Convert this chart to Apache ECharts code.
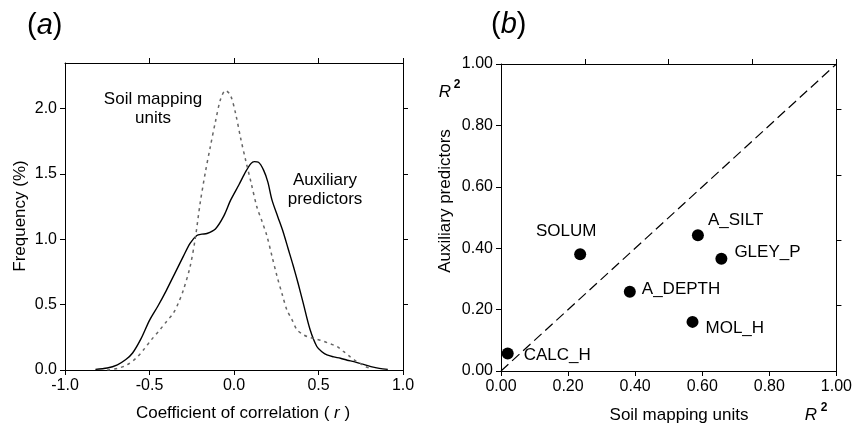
<!DOCTYPE html>
<html>
<head>
<meta charset="utf-8">
<script src="https://cdn.jsdelivr.net/npm/echarts@6/dist/echarts.min.js"></script>
<style>
  html, body { margin: 0; padding: 0; background: #fff; }
  #chart { width: 855px; height: 425px; }
</style>
</head>
<body>
<div id="chart"></div>
<script>
// (a) frequency curves of correlation coefficient r
var auxR = [-0.82, -0.75, -0.69, -0.64, -0.60, -0.55, -0.50, -0.45, -0.40, -0.35, -0.30, -0.26, -0.22, -0.19, -0.16, -0.11, -0.06, -0.02, 0.03, 0.07, 0.10, 0.12, 0.145, 0.175, 0.20, 0.225, 0.26, 0.29, 0.32, 0.35, 0.38, 0.41, 0.45, 0.49, 0.52, 0.55, 0.59, 0.63, 0.67, 0.71, 0.76, 0.81, 0.86, 0.91];
var auxFreq = [0.005, 0.015, 0.04, 0.08, 0.13, 0.24, 0.38, 0.49, 0.61, 0.74, 0.87, 0.97, 1.03, 1.04, 1.045, 1.08, 1.18, 1.30, 1.42, 1.52, 1.58, 1.595, 1.59, 1.53, 1.44, 1.30, 1.17, 1.06, 0.93, 0.80, 0.66, 0.51, 0.31, 0.18, 0.14, 0.115, 0.10, 0.09, 0.075, 0.064, 0.045, 0.026, 0.012, 0.005];
var smuR = [-0.75, -0.69, -0.635, -0.58, -0.536, -0.49, -0.437, -0.40, -0.359, -0.33, -0.30, -0.26, -0.23, -0.20, -0.17, -0.14, -0.11, -0.08, -0.05, -0.02, 0.01, 0.04, 0.07, 0.10, 0.135, 0.165, 0.194, 0.225, 0.254, 0.285, 0.313, 0.343, 0.372, 0.41, 0.45, 0.49, 0.53, 0.57, 0.609, 0.65, 0.688, 0.72, 0.747, 0.78, 0.81];
var smuFreq = [0.0, 0.012, 0.038, 0.09, 0.153, 0.23, 0.31, 0.37, 0.435, 0.51, 0.61, 0.79, 1.0, 1.28, 1.51, 1.71, 1.90, 2.07, 2.14, 2.10, 1.96, 1.77, 1.60, 1.44, 1.25, 1.14, 1.03, 0.87, 0.72, 0.58, 0.46, 0.385, 0.31, 0.27, 0.248, 0.235, 0.22, 0.20, 0.18, 0.14, 0.10, 0.07, 0.05, 0.025, 0.01];

// tick values
var freqTicks = [0, 0.5, 1.0, 1.5, 2.0];
var rTicks = [-1, -0.5, 0, 0.5, 1];
var r2Ticks = [0, 0.2, 0.4, 0.6, 0.8, 1.0];

// (b) R2 of soil mapping units vs auxiliary predictors
var props = ['CALC_H', 'SOLUM', 'A_DEPTH', 'MOL_H', 'A_SILT', 'GLEY_P'];
var r2Smu = [0.02, 0.236, 0.384, 0.571, 0.587, 0.657];
var r2Aux = [0.057, 0.38, 0.258, 0.16, 0.442, 0.366];

var font = '"Liberation Sans", Arial, Helvetica, sans-serif';
var ink = '#000';

// where each point label sits
var labelPos = {
    CALC_H: { position: 'right', offset: [5, 2] },
    SOLUM: { position: 'inside', offset: [-14, -23] },
    A_DEPTH: { position: 'right', offset: [1, -2] },
    MOL_H: { position: 'right', offset: [2, 6] },
    A_SILT: { position: 'right', offset: [-1, -15] },
    GLEY_P: { position: 'right', offset: [2, -6] }
};

function pairs(xs, ys) {
    var out = [];
    for (var i = 0; i < xs.length; i++) out.push([xs[i], ys[i]]);
    return out;
}

function axisBase(gridIndex, pos, min, max, interval, ticks, fmt) {
    var ax = {
        type: 'value',
        gridIndex: gridIndex,
        position: pos,
        min: min,
        max: max,
        interval: interval,
        axisLine: { show: true, onZero: false, lineStyle: { color: '#000', width: 1 } },
        axisTick: { show: true, inside: false, length: 5, lineStyle: { color: '#000', width: 1 } },
        axisLabel: fmt ? {
            show: true,
            color: ink,
            fontSize: 16,
            fontFamily: font,
            margin: 8,
            formatter: fmt
        } : { show: false },
        splitLine: { show: false }
    };
    if (ticks) {
        ax.axisTick.customValues = ticks;
        if (fmt) ax.axisLabel.customValues = ticks;
    }
    return ax;
}

var scatterData = props.map(function (name, i) {
    var lp = labelPos[name];
    return {
        name: name,
        value: [r2Smu[i], r2Aux[i]],
        label: { position: lp.position, offset: lp.offset }
    };
});

var option = {
    backgroundColor: '#fff',
    animation: false,
    textStyle: { fontFamily: font, color: ink },
    grid: [
        { left: 65, top: 63, width: 338, height: 307 },
        { left: 501, top: 64, width: 337, height: 307 }
    ],
    xAxis: [
        axisBase(0, 'bottom', -1, 1, 0.5, rTicks, function (v) { return v.toFixed(1); }),
        axisBase(0, 'top', -1, 1, 0.5, [-0.5, 0, 0.5, 1], null),
        axisBase(1, 'bottom', 0, 1, 0.2, r2Ticks, function (v) { return v.toFixed(2); }),
        // top / right of (b) keep the tick spacing of panel (a), as in the figure
        axisBase(1, 'top', -1, 1, 0.5, [-0.5, 0, 0.5, 1], null)
    ],
    yAxis: [
        axisBase(0, 'left', 0, 2.35, 0.5, freqTicks, function (v) { return v.toFixed(1); }),
        axisBase(0, 'right', 0, 2.35, 0.5, [0.5, 1.0, 1.5, 2.0], null),
        axisBase(1, 'left', 0, 1, 0.2, r2Ticks, function (v) { return v.toFixed(2); }),
        axisBase(1, 'right', 0, 2.35, 0.5, [0.5, 1.0, 1.5, 2.0], null)
    ],
    series: [
        {
            name: 'Auxiliary predictors',
            type: 'line',
            xAxisIndex: 0,
            yAxisIndex: 0,
            data: pairs(auxR, auxFreq),
            smooth: 0.3,
            showSymbol: false,
            symbol: 'none',
            lineStyle: { color: '#000', width: 1.4 }
        },
        {
            name: 'Soil mapping units',
            type: 'line',
            xAxisIndex: 0,
            yAxisIndex: 0,
            data: pairs(smuR, smuFreq),
            smooth: 0.3,
            showSymbol: false,
            symbol: 'none',
            lineStyle: { color: '#666', width: 1.5, type: [3, 4] }
        },
        {
            name: '1:1',
            type: 'line',
            xAxisIndex: 2,
            yAxisIndex: 2,
            data: [[0, 0], [1, 1]],
            symbol: 'none',
            silent: true,
            lineStyle: { color: '#000', width: 1.2, type: [10, 5] }
        },
        {
            name: 'R2',
            type: 'scatter',
            xAxisIndex: 2,
            yAxisIndex: 2,
            data: scatterData,
            symbol: 'circle',
            symbolSize: 12,
            itemStyle: { color: '#000', opacity: 1 },
            label: {
                show: true,
                formatter: '{b}',
                color: ink,
                fontSize: 17,
                fontFamily: font,
                distance: 5
            }
        }
    ],
    graphic: [
        // panel titles
        {
            type: 'text', left: 27, top: 11,
            style: {
                text: '({i|a})', fill: ink, fontSize: 29, fontFamily: font,
                rich: { i: { fontStyle: 'italic', fontSize: 29, fontFamily: font, fill: ink } }
            }
        },
        {
            type: 'text', left: 491, top: 10,
            style: {
                text: '({i|b})', fill: ink, fontSize: 29, fontFamily: font,
                rich: { i: { fontStyle: 'italic', fontSize: 29, fontFamily: font, fill: ink } }
            }
        },
        // panel (a) axis names
        {
            type: 'text', x: 243, y: 413,
            style: {
                text: 'Coefficient of correlation ( {i|r} )', fill: ink, fontSize: 17, fontFamily: font,
                align: 'center', verticalAlign: 'middle',
                rich: { i: { fontStyle: 'italic', fontSize: 17, fontFamily: font, fill: ink } }
            }
        },
        {
            type: 'text', x: 20, y: 216, rotation: Math.PI / 2,
            style: {
                text: 'Frequency (%)', fill: ink, fontSize: 17, fontFamily: font,
                align: 'center', verticalAlign: 'middle'
            }
        },
        // panel (a) curve labels
        {
            type: 'text', x: 153, y: 109,
            style: {
                text: 'Soil mapping\nunits', fill: ink, fontSize: 17, fontFamily: font, lineHeight: 19,
                align: 'center', verticalAlign: 'middle'
            }
        },
        {
            type: 'text', x: 325, y: 190,
            style: {
                text: 'Auxiliary\npredictors', fill: ink, fontSize: 17, fontFamily: font, lineHeight: 19,
                align: 'center', verticalAlign: 'middle'
            }
        },
        // panel (b) axis names
        {
            type: 'text', x: 679, y: 415,
            style: {
                text: 'Soil mapping units', fill: ink, fontSize: 17, fontFamily: font,
                align: 'center', verticalAlign: 'middle'
            }
        },
        {
            type: 'text', x: 445, y: 201, rotation: Math.PI / 2,
            style: {
                text: 'Auxiliary predictors', fill: ink, fontSize: 17, fontFamily: font,
                align: 'center', verticalAlign: 'middle'
            }
        },
        {
            type: 'text', x: 445, y: 92,
            style: { text: 'R', fill: ink, fontSize: 17, fontStyle: 'italic', fontFamily: font, align: 'center', verticalAlign: 'middle' }
        },
        {
            type: 'text', x: 457, y: 85,
            style: { text: '2', fill: ink, fontSize: 12, fontWeight: 'bold', fontFamily: font, align: 'center', verticalAlign: 'middle' }
        },
        {
            type: 'text', x: 811, y: 415,
            style: { text: 'R', fill: ink, fontSize: 17, fontStyle: 'italic', fontFamily: font, align: 'center', verticalAlign: 'middle' }
        },
        {
            type: 'text', x: 824, y: 408,
            style: { text: '2', fill: ink, fontSize: 12, fontWeight: 'bold', fontFamily: font, align: 'center', verticalAlign: 'middle' }
        }
    ]
};

var chart = echarts.init(document.getElementById('chart'), null, { renderer: 'canvas' });
chart.setOption(option);
</script>
</body>
</html>
